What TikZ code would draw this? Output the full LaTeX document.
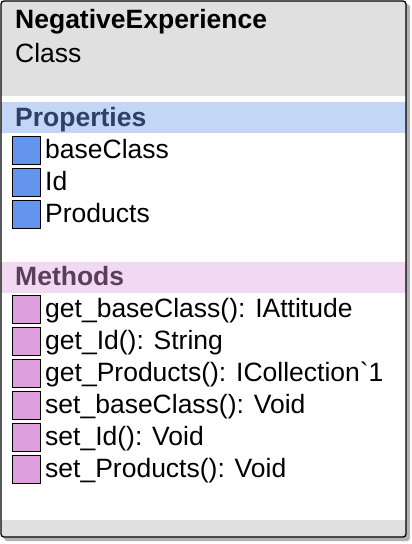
\documentclass[tikz,border=0pt]{standalone}
\usepackage{fontspec}
\setmainfont{Liberation Sans}
\newfontfamily\plainfont{Liberation Sans}
\definecolor{headgray}{HTML}{E0E0E0}
\definecolor{propband}{HTML}{C3D6F6}
\definecolor{proptext}{HTML}{2E3F68}
\definecolor{propfill}{HTML}{6495ED}
\definecolor{methband}{HTML}{F1D9F1}
\definecolor{methtext}{HTML}{5C3D5C}
\definecolor{methfill}{HTML}{DDA0DD}
\begin{document}
\begin{tikzpicture}[x=1pt,y=-1pt,
    txt/.style={anchor=base west,inner sep=0pt,font=\fontsize{26.5}{30}\selectfont},
    head/.style={txt,font=\fontsize{26.5}{30}\selectfont\bfseries},
    propbox/.style={draw,line width=1.3pt,fill=propfill,minimum size=28pt,inner sep=0pt},
    methbox/.style={draw,line width=1.3pt,fill=methfill,minimum size=28pt,inner sep=0pt}]
    \useasboundingbox (0,0) rectangle (412,544);
    % shadow and body
    \fill [black!30,rounded corners=3pt] (4,4) rectangle (410,541);
    \fill [white,rounded corners=3pt] (1,1) rectangle (406,537);
    \begin{scope}
        \clip [rounded corners=3pt] (1,1) rectangle (406,537);
        \fill [headgray] (1,1) rectangle (406,96);
        \fill [propband] (1,102) rectangle (406,133);
        \fill [methband] (1,262) rectangle (406,293);
        \fill [headgray] (1,520) rectangle (406,537);
    \end{scope}
    \draw [line width=1.3pt,rounded corners=3pt] (1,1) rectangle (406,537);

    \node [head] (name) at (15,28) {NegativeExperience};
    \node [txt] (kind) at (15,62) {Class};

    % properties
    \node [head,text=proptext] (props) at (15,126) {Properties};
    \foreach \prop [count=\i] in {baseClass,Id,Products} {
        \node [propbox] (pbox\i) at (26.5,150.5+32*\i-32) {};
        \node [txt] (ptext\i) at (45,158+32*\i-32) {\prop};
    }

    % methods
    \node [head,text=methtext] (meths) at (15,285) {Methods};
    \foreach \meth [count=\i] in {{get\_baseClass(): IAttitude},{get\_Id(): String},
        {get\_Products(): ICollection{\plainfont\char96}1},{set\_baseClass(): Void},
        {set\_Id(): Void},{set\_Products(): Void}} {
        \node [methbox] (mbox\i) at (26.5,309.5+32*\i-32) {};
        \node [txt] (mtext\i) at (45,317+32*\i-32) {\meth};
    }
\end{tikzpicture}
\end{document}
